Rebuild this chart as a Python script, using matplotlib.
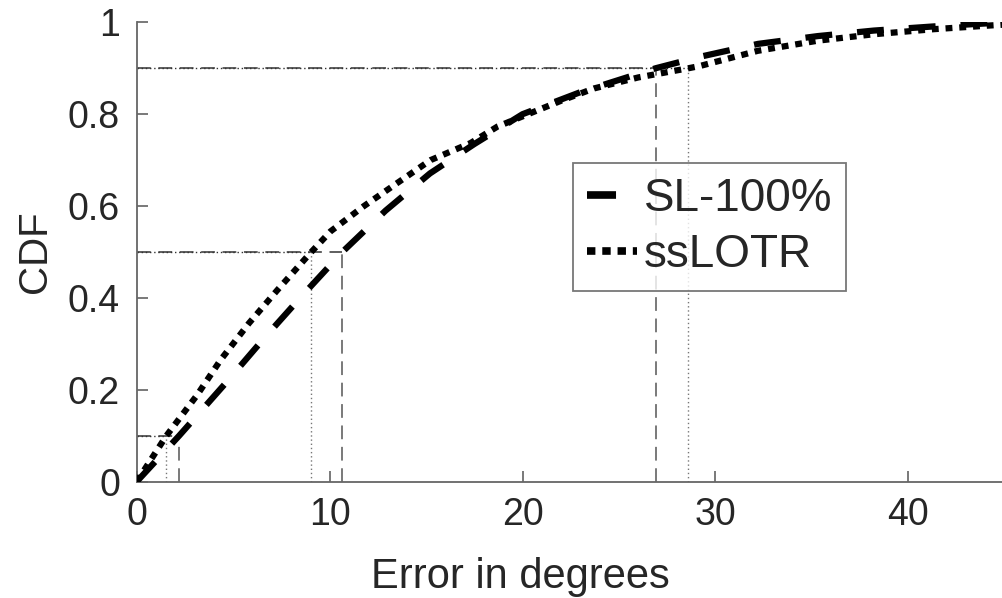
# -*- coding: utf-8 -*-

import numpy as np
import matplotlib
matplotlib.use('Agg')
import matplotlib.pyplot as plt
from matplotlib.lines import Line2D

plt.rcParams['font.family'] = ['Liberation Sans', 'DejaVu Sans']

# CDF curves
sl_x = [0, 2.2, 4.6, 6.6, 8.6, 10.66, 12.9, 15.2, 17.5, 20, 23, 26.9,
        29.2, 32.2, 35.3, 38.2, 41.3, 44.2, 45]
sl_y = [0, 0.1, 0.214, 0.312, 0.406, 0.5, 0.59, 0.671, 0.735, 0.80, 0.848,
        0.9, 0.925, 0.953, 0.970, 0.982, 0.991, 0.998, 1.0]

ss_x = [0, 1.54, 3.14, 4.35, 5.82, 7.29, 9.05, 10.05, 11.78, 13.5, 15.23,
        17.3, 18.7, 20.4, 22.1, 23.7, 26, 28.6, 29.2, 32.2, 35.3, 38.2,
        41.3, 44.2, 45]
ss_y = [0, 0.1, 0.189, 0.265, 0.345, 0.417, 0.5, 0.545, 0.6, 0.65, 0.70,
        0.737, 0.773, 0.802, 0.831, 0.856, 0.88, 0.9, 0.905, 0.938, 0.960,
        0.974, 0.985, 0.993, 0.995]

# quantile markers (CDF level -> error)
levels = [0.1, 0.5, 0.9]
sl_q = [2.2, 10.66, 26.9]
ss_q = [1.54, 9.05, 28.6]

labels = ['SL-100%', 'ssLOTR']

fig = plt.figure(figsize=(10.02, 5.98), dpi=100)
ax = fig.add_axes([0.1364, 0.1945, 1 - 0.1364, 0.7682])

# reference lines
for lv, qa, qb in zip(levels, sl_q, ss_q):
    ax.plot([qa, qa], [0, lv], color='#555555', lw=1.1,
            linestyle=(0, (9, 5)), zorder=2)
    ax.plot([0, qa], [lv, lv], color='#333333', lw=1.1,
            linestyle=(0, (9, 5)), zorder=2)
    ax.plot([qb, qb], [0, lv], color='#777777', lw=1.0,
            linestyle=(0, (1, 2)), zorder=2)
    ax.plot([0, qb], [lv, lv], color='#333333', lw=1.0,
            linestyle=(0, (1, 2)), zorder=2)

ax.plot(sl_x, sl_y, color='k', lw=4.5, linestyle=(0, (4.3, 4.0)),
        dash_capstyle='butt', zorder=3)
ax.plot(ss_x, ss_y, color='k', lw=4.5, linestyle=(0, (1.1, 1.1)),
        dash_capstyle='butt', zorder=3)

ax.set_xlim(0, 44.85)
ax.set_ylim(0, 1)
ax.set_xticks([0, 10, 20, 30, 40])
ax.set_yticks([0, 0.2, 0.4, 0.6, 0.8, 1])
ax.set_yticklabels(['0', '0.2', '0.4', '0.6', '0.8', '1'])

for s in ['top', 'right']:
    ax.spines[s].set_visible(False)
for s in ['left', 'bottom']:
    ax.spines[s].set_color('#666666')
    ax.spines[s].set_linewidth(1.3)

ax.tick_params(direction='in', length=8, width=1.1, color='#555555',
               labelsize=27, labelcolor='#262626')
ax.tick_params(axis='y', pad=12)
ax.tick_params(axis='x', pad=11)

ax.set_xlabel('Error in degrees', fontsize=30, color='#262626')
ax.set_ylabel('CDF', fontsize=29, color='#262626')
ax.xaxis.set_label_coords(0.443, -0.165)
ax.yaxis.set_label_coords(-0.1175, 0.5)
ax.xaxis.label.set_va('top')
ax.yaxis.label.set_va('center')

handles = [Line2D([0], [0], color='k', lw=5.5, linestyle=(0, (3.8, 20)),
                  dash_capstyle='butt'),
           Line2D([0], [0], color='k', lw=5.5, linestyle=(0, (1.1, 0.9)),
                  dash_capstyle='butt')]
leg = ax.legend(handles, labels, loc='upper left',
                bbox_to_anchor=(0.504, 0.694), borderaxespad=0,
                fontsize=33, frameon=True, fancybox=False,
                handlelength=1.1, handletextpad=0.15, borderpad=0.3,
                labelspacing=0.28)
leg.get_frame().set_edgecolor('#555555')
leg.get_frame().set_linewidth(1.3)
for t in leg.get_texts():
    t.set_color('#262626')

fig.savefig('out.png', dpi=100)
